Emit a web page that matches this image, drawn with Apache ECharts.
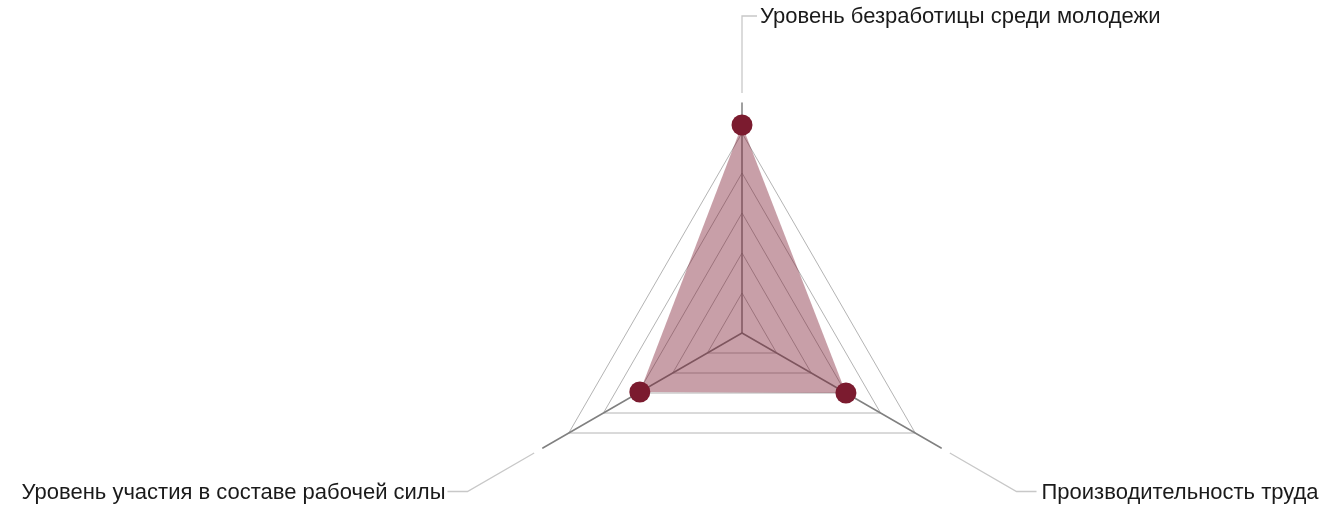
<!DOCTYPE html>
<html>
<head>
<meta charset="utf-8">
<script src="https://cdn.jsdelivr.net/npm/echarts@6/dist/echarts.min.js"></script>
<style>
    html, body { margin: 0; padding: 0; background: #fff; }
    #chart { width: 1323px; height: 507px; }
</style>
</head>
<body>
<div id="chart"></div>
<script>
// indicators go counterclockwise from the top
var indicatorNames = [
    'Уровень безработицы среди молодежи',
    'Уровень участия в составе рабочей силы',
    'Производительность труда'
];
var indicatorMax = [100, 100, 100];
var seriesValues = [104, 59, 60];

var cx = 742, cy = 333;      // radar centre
var ringRadius = 200;        // outer split ring
var axisRadius = 230;        // axis line runs a bit past the rings
var leadFrom = 240, leadTo = 317;

var myChart = echarts.init(document.getElementById('chart'));

var indicators = [];
for (var i = 0; i < indicatorNames.length; i++) {
    indicators.push({ name: indicatorNames[i], max: indicatorMax[i], min: 0 });
}

// leader lines + labels, placed along each axis direction
var graphics = [];
for (var i = 0; i < indicatorNames.length; i++) {
    var a = (90 + i * 360 / indicatorNames.length) * Math.PI / 180;
    var dx = Math.cos(a), dy = -Math.sin(a);
    var side = dx < -0.1 ? -1 : 1;
    var flat = Math.abs(dx) < 0.1 ? 15 : 20;
    var gap = Math.abs(dx) < 0.1 ? 3 : (side < 0 ? 2 : 5);
    var x0 = cx + leadFrom * dx, y0 = cy + leadFrom * dy;
    var x1 = cx + leadTo * dx, y1 = cy + leadTo * dy;
    var x2 = x1 + side * flat;
    graphics.push({
        type: 'polyline',
        shape: { points: [[x0, y0], [x1, y1], [x2, y1]] },
        style: { stroke: '#c8c8c8', lineWidth: 1.3, fill: null },
        silent: true
    });
    graphics.push({
        type: 'text',
        x: x2 + side * gap,
        y: y1 + 1,
        style: {
            text: indicatorNames[i],
            fill: '#1a1a1a',
            font: '22px "Liberation Sans", Arial, sans-serif',
            align: side < 0 ? 'right' : 'left',
            verticalAlign: 'middle'
        },
        silent: true
    });
}

var option = {
    backgroundColor: '#fff',
    animation: false,
    radar: [{
        center: [cx, cy],
        radius: ringRadius,
        startAngle: 90,
        splitNumber: 5,
        shape: 'polygon',
        indicator: indicators,
        axisName: { show: false },
        axisLine: { show: false },
        splitArea: { show: false },
        splitLine: { lineStyle: { color: '#b4b4b4', width: 1 } }
    }, {
        center: [cx, cy],
        radius: axisRadius,
        startAngle: 90,
        splitNumber: 1,
        shape: 'polygon',
        indicator: indicators,
        axisName: { show: false },
        axisLine: { lineStyle: { color: '#808080', width: 1.5 } },
        splitArea: { show: false },
        splitLine: { show: false }
    }],
    graphic: graphics,
    series: [{
        type: 'radar',
        radarIndex: 0,
        symbol: 'circle',
        symbolSize: 21,
        itemStyle: { color: '#7b1b2f' },
        lineStyle: { width: 0, opacity: 0 },
        areaStyle: { color: '#7b1b2f', opacity: 0.42 },
        data: [{ value: seriesValues }]
    }]
};

myChart.setOption(option);
</script>
</body>
</html>
